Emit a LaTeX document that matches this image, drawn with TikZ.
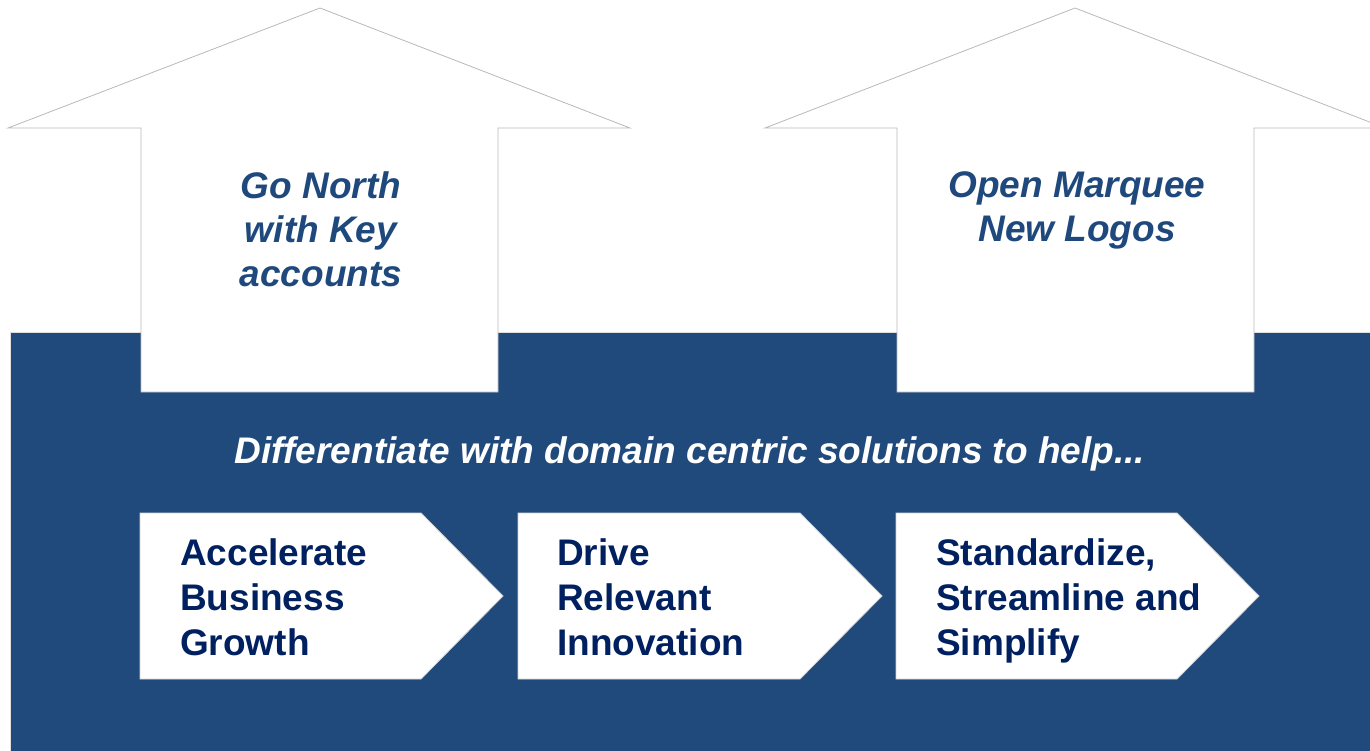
\documentclass[tikz,border=0pt]{standalone}
\usepackage{fontspec}
\setmainfont{Liberation Sans}
\usepackage{xcolor}
\usetikzlibrary{positioning}

\definecolor{bandblue}{HTML}{214A7C}
\definecolor{goalblue}{HTML}{1F497D}
\definecolor{stepnavy}{HTML}{002060}

\begin{document}
\begin{tikzpicture}[x=1pt, y=-1pt,
    uparrow/.style={draw=gray!55, fill=white, line width=0.8pt, line join=miter},
    chevron/.style={draw=gray!35, fill=white, line width=0.8pt},
    goal/.style={font=\fontsize{37}{44}\selectfont\bfseries\itshape, text=goalblue, align=center, inner sep=0pt},
    steptext/.style={font=\fontsize{37}{45}\selectfont\bfseries, text=stepnavy, align=left, anchor=north west, inner sep=0pt}
]
  \clip (0,0) rectangle (1370,750);

  % Blue band
  \filldraw[fill=bandblue, draw=gray!25, line width=1pt] (10,332) rectangle (1380,760);

  % Up arrows
  \draw[uparrow] (141,392) -- (141,128) -- (8,128) -- (320,8) -- (630,128) -- (498,128) -- (498,392) -- cycle;
  \draw[uparrow] (897,392) -- (897,128) -- (765,128) -- (1075,8) -- (1385,128) -- (1254,128) -- (1254,392) -- cycle;

  % Arrow labels
  \node[goal] (north) at (321,229) {Go North\\with Key\\accounts};
  \node[goal] (logos) at (1077,210) {Open Marquee\\New Logos};

  % Tagline
  \node[font=\fontsize{37}{44}\selectfont\bfseries\itshape, text=white, anchor=base, inner sep=0pt] (tagline) at (690,463)
    {Differentiate with domain centric solutions to help...};

  % Chevrons
  \draw[chevron] (140,513) -- (421,513) -- (503,596) -- (421,679) -- (140,679) -- cycle;
  \draw[chevron] (518,513) -- (800,513) -- (882,596) -- (800,679) -- (518,679) -- cycle;
  \draw[chevron] (896,513) -- (1177,513) -- (1259,596) -- (1177,679) -- (896,679) -- cycle;

  % Chevron labels
  \node[steptext] (growth) at (180,538) {Accelerate\\Business\\Growth};
  \node[steptext] (innovation) at (557,538) {Drive\\Relevant\\Innovation};
  \node[steptext] (simplify) at (936,538) {Standardize,\\Streamline and\\Simplify};
\end{tikzpicture}
\end{document}
